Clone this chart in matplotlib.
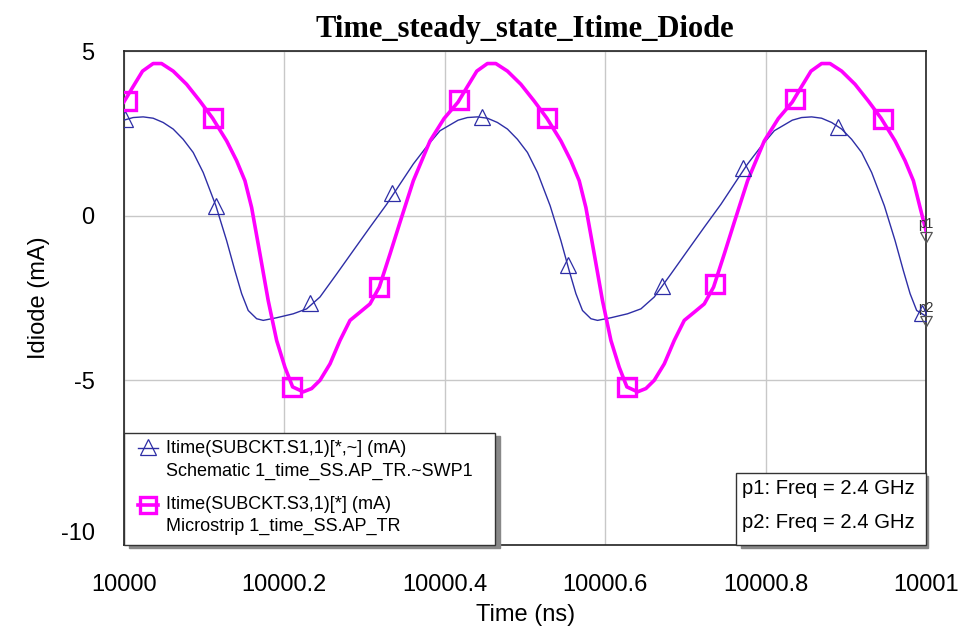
import numpy as np
import matplotlib
matplotlib.use('Agg')
from matplotlib import pyplot as plt
from matplotlib.patches import Rectangle
from matplotlib.ticker import FuncFormatter

T0 = 10000.0

# Schematic series (blue), time offset in ns from 10000 ns
schem_t = [0.0000, 0.0116, 0.0241, 0.0365, 0.0490, 0.0615, 0.0739, 0.0864, 0.0989, 0.1147,
           0.1281, 0.1384, 0.1468, 0.1550, 0.1655, 0.1737, 0.1904, 0.2111, 0.2278, 0.2444,
           0.2652, 0.2859, 0.3067, 0.3276, 0.3441, 0.3607, 0.3774, 0.3940,
           0.4165, 0.4281, 0.4406, 0.4530, 0.4655, 0.4780, 0.4904, 0.5029, 0.5154, 0.5312,
           0.5446, 0.5549, 0.5633, 0.5715, 0.5820, 0.5902, 0.6069, 0.6276, 0.6443, 0.6609,
           0.6817, 0.7024, 0.7232, 0.7441, 0.7606, 0.7772, 0.7939, 0.8105,
           0.8329, 0.8445, 0.8570, 0.8694, 0.8819, 0.8944, 0.9068, 0.9193, 0.9318, 0.9476,
           0.9610, 0.9713, 0.9797, 0.9879, 1.0000]
schem_i = [2.90, 2.98, 3.00, 2.96, 2.83, 2.63, 2.32, 1.92, 1.31, 0.30,
           -0.76, -1.67, -2.37, -2.88, -3.13, -3.18, -3.10, -2.98, -2.83, -2.47,
           -1.77, -1.06, -0.35, 0.35, 0.96, 1.57, 2.10, 2.58,
           2.90, 2.98, 3.00, 2.96, 2.83, 2.63, 2.32, 1.92, 1.31, 0.30,
           -0.76, -1.67, -2.37, -2.88, -3.13, -3.18, -3.10, -2.98, -2.83, -2.47,
           -1.77, -1.06, -0.35, 0.35, 0.96, 1.57, 2.10, 2.58,
           2.90, 2.98, 3.00, 2.96, 2.83, 2.63, 2.32, 1.92, 1.31, 0.30,
           -0.76, -1.67, -2.37, -2.88, -3.06]
schem_mk_t = [0.001, 0.115, 0.232, 0.334, 0.446, 0.554, 0.671, 0.771, 0.890, 0.994]
schem_mk_i = [2.94, 0.30, -2.64, 0.70, 3.00, -1.50, -2.15, 1.45, 2.68, -2.97]

# Microstrip series (magenta)
micro_t = [0.0000, 0.0108, 0.0233, 0.0365, 0.0470, 0.0615, 0.0782, 0.0948, 0.1106, 0.1281,
           0.1405, 0.1509, 0.1592, 0.1696, 0.1799, 0.1904, 0.2007, 0.2103, 0.2236, 0.2340,
           0.2444, 0.2569, 0.2693, 0.2818, 0.2943, 0.3067, 0.3183, 0.3317, 0.3441, 0.3607,
           0.3815, 0.3990,
           0.4165, 0.4273, 0.4398, 0.4530, 0.4635, 0.4780, 0.4947, 0.5113, 0.5271, 0.5446,
           0.5570, 0.5674, 0.5757, 0.5861, 0.5964, 0.6069, 0.6172, 0.6268, 0.6401, 0.6505,
           0.6609, 0.6734, 0.6858, 0.6983, 0.7108, 0.7232, 0.7348, 0.7482, 0.7606, 0.7772,
           0.7980, 0.8155,
           0.8329, 0.8437, 0.8562, 0.8694, 0.8799, 0.8944, 0.9111, 0.9277, 0.9435, 0.9610,
           0.9734, 0.9838, 0.9921, 1.0000]
micro_i = [3.45, 3.89, 4.39, 4.62, 4.62, 4.39, 3.99, 3.48, 2.96, 2.27,
           1.67, 1.06, 0.25, -1.16, -2.58, -3.79, -4.60, -5.20, -5.35, -5.25,
           -5.00, -4.50, -3.79, -3.18, -2.93, -2.68, -2.17, -1.16, -0.20, 1.06,
           2.27, 2.95,
           3.45, 3.89, 4.39, 4.62, 4.62, 4.39, 3.99, 3.48, 2.96, 2.27,
           1.67, 1.06, 0.25, -1.16, -2.58, -3.79, -4.60, -5.20, -5.35, -5.25,
           -5.00, -4.50, -3.79, -3.18, -2.93, -2.68, -2.17, -1.16, -0.20, 1.06,
           2.27, 2.95,
           3.45, 3.89, 4.39, 4.62, 4.62, 4.39, 3.99, 3.48, 2.96, 2.27,
           1.67, 1.06, 0.25, -0.50]
micro_mk_t = [0.004, 0.111, 0.210, 0.318, 0.418, 0.527, 0.627, 0.736, 0.836, 0.946]
micro_mk_i = [3.48, 2.96, -5.20, -2.17, 3.50, 2.96, -5.20, -2.09, 3.54, 2.93]

x_ticks = [10000, 10000.2, 10000.4, 10000.6, 10000.8, 10001]
y_ticks = [-10, -5, 0, 5]

legend_lines = ['Itime(SUBCKT.S1,1)[*,~] (mA)', 'Schematic 1_time_SS.AP_TR.~SWP1',
                'Itime(SUBCKT.S3,1)[*] (mA)', 'Microstrip 1_time_SS.AP_TR']
marker_lines = ['p1: Freq = 2.4 GHz', 'p2: Freq = 2.4 GHz']

BLUE = '#2e2ea6'
MAG = '#ff00ff'

plt.rcParams['font.family'] = 'Liberation Sans'
plt.rcParams['axes.unicode_minus'] = False

fig = plt.figure(figsize=(9.6, 6.3), dpi=100)
ax = fig.add_axes([0.129, 0.135, 0.836, 0.784])

st = np.array(schem_t) + T0
mt = np.array(micro_t) + T0

ax.plot(st, schem_i, color=BLUE, lw=1.0, zorder=3)
ax.plot(np.array(schem_mk_t) + T0, schem_mk_i, ls='none', marker='^', ms=12,
        mfc='none', mec=BLUE, mew=0.9, zorder=4)
ax.plot(mt, micro_i, color=MAG, lw=2.6, zorder=3)
ax.plot(np.array(micro_mk_t) + T0, micro_mk_i, ls='none', marker='s', ms=13,
        mfc='none', mec=MAG, mew=2.4, zorder=4)

# p1 / p2 markers hanging below the last points
hang = [(-1, 0), (1, 0), (0, -1.8), (-1, 0)]
for xx, yy, lab in [(mt[-1], micro_i[-1], 'p1'), (st[-1], schem_i[-1], 'p2')]:
    ax.plot(xx, yy, marker=hang, ms=15, mfc='none', mec='#555555', mew=0.9,
            zorder=5, clip_on=False)
    ax.annotate(lab, (xx, yy), xytext=(-6, 3), textcoords='offset points',
                fontsize=10, color='#333333', annotation_clip=False)

ax.set_xlim(T0, T0 + 1)
ax.set_ylim(-10, 5)
ax.set_xticks(x_ticks)
ax.set_yticks(y_ticks)
ax.xaxis.set_major_formatter(FuncFormatter(lambda v, p: '%g' % v))
ax.tick_params(length=0, labelsize=17)
ax.tick_params(axis='x', pad=21)
ax.tick_params(axis='y', pad=21)
ax.get_yticklabels()[0].set_va('bottom')
ax.grid(True, color='#c8c8c8', lw=1.0)
ax.set_axisbelow(True)
for s in ax.spines.values():
    s.set_color('#222222')
    s.set_linewidth(1.2)

ax.set_xlabel('Time (ns)', fontsize=17, labelpad=6)
ax.set_ylabel('Idiode (mA)', fontsize=17, labelpad=8)
ax.set_title('Time_steady_state_Itime_Diode', fontsize=22, fontweight='bold',
             family='Liberation Serif', pad=10)

# legend box (drawn by hand)
tr = ax.transAxes
ax.add_patch(Rectangle((0.006, -0.006), 0.463, 0.227, transform=tr, color='#888888',
                       zorder=6, clip_on=False))
ax.add_patch(Rectangle((0.0, 0.0), 0.463, 0.227, transform=tr, fc='white',
                       ec='#333333', lw=1.0, zorder=7, clip_on=False))
ax.plot([0.018, 0.042], [0.196, 0.196], transform=tr, color=BLUE, lw=1.0, zorder=8)
ax.plot([0.030], [0.199], transform=tr, marker='^', ms=11, mfc='none', mec=BLUE,
        mew=0.9, zorder=8)
ax.plot([0.018, 0.042], [0.081, 0.081], transform=tr, color=MAG, lw=2.6, zorder=8)
ax.plot([0.030], [0.081], transform=tr, marker='s', ms=11, mfc='none', mec=MAG,
        mew=2.4, zorder=8)
leg_y = [0.196, 0.149, 0.081, 0.037]
for txt, yy in zip(legend_lines, leg_y):
    ax.text(0.053, yy, txt, transform=tr, fontsize=13, va='center', ha='left',
            zorder=9)

ax.add_patch(Rectangle((0.769, -0.006), 0.233, 0.146, transform=tr, color='#888888',
                       zorder=6, clip_on=False))
ax.add_patch(Rectangle((0.763, 0.0), 0.237, 0.146, transform=tr, fc='white',
                       ec='#333333', lw=1.0, zorder=7, clip_on=False))
for txt, yy in zip(marker_lines, [0.115, 0.045]):
    ax.text(0.770, yy, txt, transform=tr, fontsize=14.6, va='center', ha='left',
            zorder=9)

fig.savefig('out.png', dpi=100)
